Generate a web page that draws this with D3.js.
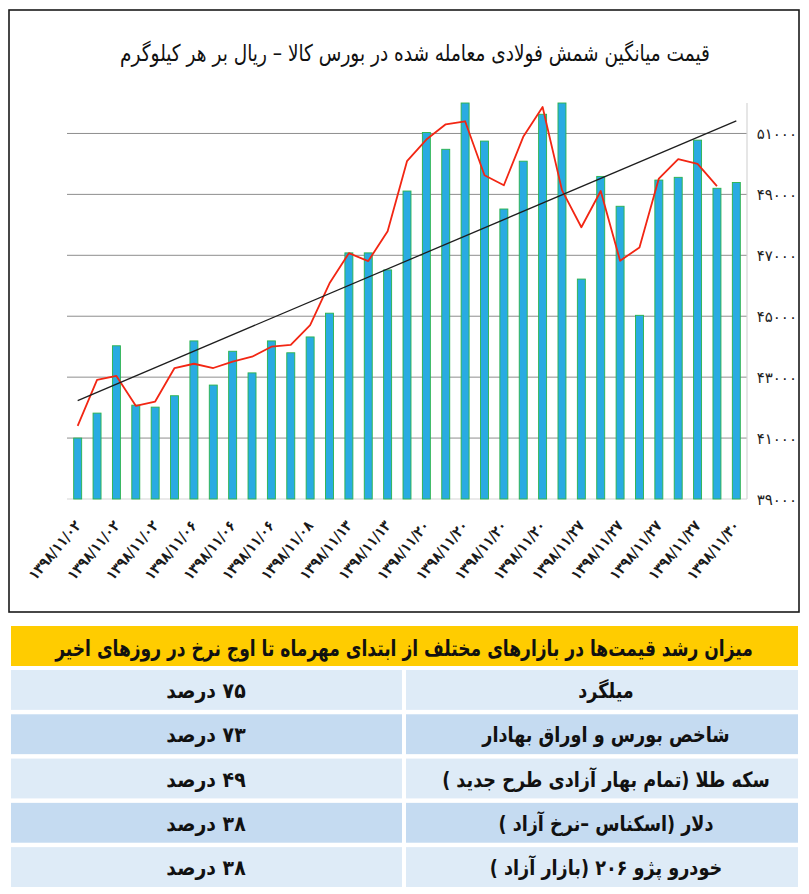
<!DOCTYPE html>
<html><head><meta charset="utf-8">
<script src="https://cdn.jsdelivr.net/npm/d3@7/dist/d3.min.js"></script>
<style>
html,body{margin:0;padding:0;background:#fff;}
svg{display:block;}
text{font-family:"DejaVu Sans","Noto Sans",sans-serif;}
</style></head>
<body>
<svg id="c" width="809" height="894"></svg>
<script>
// ---------- DATA ----------
const title = "قیمت میانگین شمش فولادی معامله شده در بورس کالا – ریال بر هر کیلوگرم";
const barValues = [41000,41820,44030,42080,42016,42390,44190,42740,43850,43140,44190,43800,44320,45100,47080,47080,46520,49110,51030,50480,52000,50750,48520,50090,51630,52000,46220,49590,48610,45030,49470,49560,50780,49200,49390];
const lineValues = [41400,42910,43040,42060,42200,43300,43440,43300,43510,43670,44000,44060,44710,46080,47070,46810,47790,50090,50800,51300,51400,49630,49300,50890,51870,49140,47920,49110,46820,47260,49520,50160,50000,49270];
const tickLabels = ["۱۳۹۸/۱۱/۰۲","۱۳۹۸/۱۱/۰۲","۱۳۹۸/۱۱/۰۲","۱۳۹۸/۱۱/۰۶","۱۳۹۸/۱۱/۰۶","۱۳۹۸/۱۱/۰۶","۱۳۹۸/۱۱/۰۸","۱۳۹۸/۱۱/۱۳","۱۳۹۸/۱۱/۱۳","۱۳۹۸/۱۱/۲۰","۱۳۹۸/۱۱/۲۰","۱۳۹۸/۱۱/۲۰","۱۳۹۸/۱۱/۲۰","۱۳۹۸/۱۱/۲۷","۱۳۹۸/۱۱/۲۷","۱۳۹۸/۱۱/۲۷","۱۳۹۸/۱۱/۲۷","۱۳۹۸/۱۱/۳۰"];
const yTicks = [39000,41000,43000,45000,47000,49000,51000];
const yDomain = [39000,52000];

const tableTitle = "میزان رشد قیمت‌ها در بازارهای مختلف از ابتدای مهرماه تا اوج نرخ در روزهای اخیر";
const markets = ["میلگرد","شاخص بورس و اوراق بهادار","سکه طلا (تمام بهار آزادی طرح جدید )","دلار (اسکناس –نرخ آزاد )","خودرو پژو ۲۰۶ (بازار آزاد )"];
const growth = [75,73,49,38,38];

// ---------- HELPERS ----------
const fa = s => String(s).replace(/\d/g, d => "۰۱۲۳۴۵۶۷۸۹"[+d]);
// place a text centred at (cx, cy) and condense it horizontally to a target width
// (emulates the narrow Persian face of the original)
function placeCondensed(sel, cx, cy, widthFn){
  sel.attr("x",0).attr("y",0).attr("text-anchor","middle");
  sel.each(function(d,i){
    const w = this.getComputedTextLength();
    const k = Math.min(1, widthFn(w,d,i)/w);
    d3.select(this).attr("transform",`translate(${typeof cx==="function"?cx(d,i):cx},${typeof cy==="function"?cy(d,i):cy}) scale(${k},1)`);
  });
}

const svg = d3.select("#c");

// frame
svg.append("rect").attr("x",9).attr("y",10).attr("width",790).attr("height",602)
  .attr("fill","none").attr("stroke","#1a1a1a").attr("stroke-width",1.6);

// title
const t = svg.append("text").attr("direction","rtl").attr("font-size",23).attr("fill","#111").text(title);
placeCondensed(t, 415, 61, ()=>590);

// scales
const idx = d3.range(barValues.length);
const x = d3.scaleBand().domain(idx).range([67,747]).paddingInner(0.588).paddingOuter(0.345);
const cx = i => x(i) + x.bandwidth()/2;
const y = d3.scaleLinear().domain(yDomain).range([499,103]);

// gridlines
svg.append("g").selectAll("line").data(yTicks.filter(v=>v>yDomain[0])).join("line")
  .attr("x1",67).attr("x2",747).attr("y1",d=>y(d)).attr("y2",d=>y(d))
  .attr("stroke","#8e8e8e").attr("stroke-width",1);
svg.append("line").attr("x1",67).attr("x2",747).attr("y1",y(yDomain[0])).attr("y2",y(yDomain[0]))
  .attr("stroke","#d6d6d6").attr("stroke-width",1.2);
svg.append("line").attr("x1",747).attr("x2",747).attr("y1",y(yDomain[1])).attr("y2",y(yDomain[0]))
  .attr("stroke","#d6d6d6").attr("stroke-width",1.2);

// y axis labels (right)
const yAxis = d3.axisRight(y).tickValues(yTicks).tickSize(0).tickPadding(0).tickFormat(d=>fa(d));
const ya = svg.append("g").attr("transform","translate(797,0)").call(yAxis);
ya.select(".domain").remove();
ya.selectAll("text").attr("text-anchor","end").attr("font-size",15).attr("fill","#222")
  .attr("font-family","DejaVu Sans, sans-serif").attr("dy","0.35em").attr("direction","ltr");

// bars
svg.append("g").selectAll("rect").data(barValues).join("rect")
  .attr("x",(d,i)=>x(i)).attr("width",x.bandwidth())
  .attr("y",d=>y(Math.min(d,yDomain[1]))).attr("height",d=>y(yDomain[0])-y(Math.min(d,yDomain[1])))
  .attr("fill","#29abe2").attr("stroke","#2bb34b").attr("stroke-width",0.9);

// red line
const line = d3.line().x((d,i)=>cx(i)).y(d=>y(d));
svg.append("path").datum(lineValues).attr("d",line).attr("fill","none")
  .attr("stroke","#f22613").attr("stroke-width",1.8).attr("stroke-linejoin","round");

// linear trend of bars (least squares)
const n = barValues.length, mx = d3.mean(idx), my = d3.mean(barValues);
const slope = d3.sum(idx,i=>(i-mx)*(barValues[i]-my)) / d3.sum(idx,i=>(i-mx)*(i-mx));
const icpt = my - slope*mx;
svg.append("line").attr("x1",cx(0)).attr("y1",y(icpt)).attr("x2",cx(n-1)).attr("y2",y(icpt+slope*(n-1)))
  .attr("stroke","#1e1e1e").attr("stroke-width",1.3);

// x labels (every other bar)
const xl = svg.append("g").selectAll("text").data(tickLabels).join("text")
  .attr("text-anchor","end").attr("font-size",15).attr("font-weight","bold").attr("fill","#1a1a1a")
  .attr("direction","ltr").text(d=>d);
xl.each(function(d,k){
  const w = this.getComputedTextLength();
  d3.select(this).attr("transform",`translate(${cx(k*2)+4},526) rotate(-50) scale(${Math.min(1,72/w)},1)`);
});

// ---------- TABLE ----------
svg.append("rect").attr("x",11).attr("y",626).attr("width",787).attr("height",40).attr("fill","#ffcc00");
const th = svg.append("text").attr("direction","rtl")
  .attr("font-size",22).attr("font-weight","bold").attr("fill","#111").text(tableTitle);
placeCondensed(th, 404, 656, ()=>698);

const rowY = d3.scaleBand().domain(d3.range(markets.length)).range([670,887]).paddingInner(0.1).paddingOuter(0);
const rows = svg.append("g").selectAll("g").data(markets).join("g")
  .attr("transform",(d,i)=>`translate(0,${rowY(i)})`);
rows.append("rect").attr("x",406).attr("width",392).attr("height",rowY.bandwidth())
  .attr("fill",(d,i)=>i%2?"#c5dbf1":"#deebf7");
rows.append("rect").attr("x",11).attr("width",391).attr("height",rowY.bandwidth())
  .attr("fill",(d,i)=>i%2?"#c5dbf1":"#deebf7");
const rt = rows.append("text").attr("direction","rtl").attr("font-size",21).attr("font-weight","bold")
  .attr("fill","#111").text(d=>d);
placeCondensed(rt, 606, rowY.bandwidth()/2 + 8, w=>w*0.84);
const lt = rows.append("text").attr("direction","rtl").attr("font-size",21).attr("font-weight","bold")
  .attr("fill","#111").text((d,i)=>fa(growth[i])+" درصد");
placeCondensed(lt, 206, rowY.bandwidth()/2 + 8, w=>w*0.9);
</script>
</body></html>
